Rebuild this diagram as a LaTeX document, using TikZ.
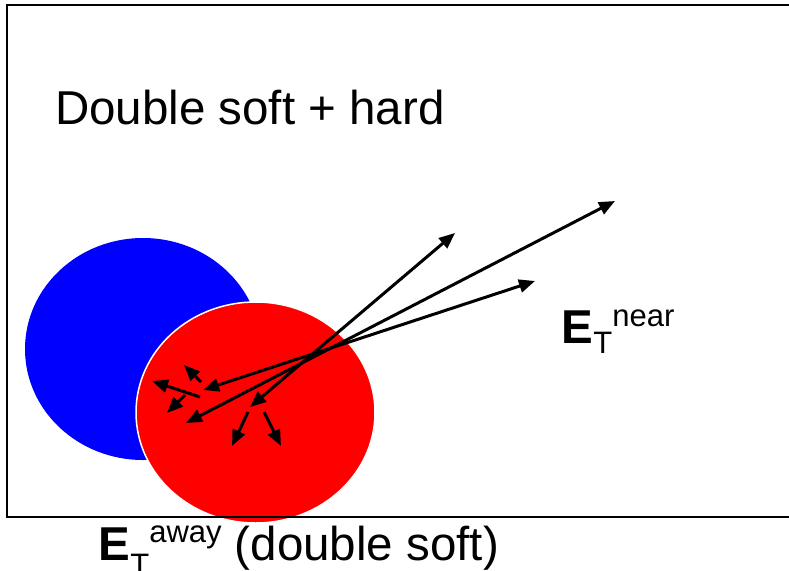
\documentclass[tikz,border=0pt]{standalone}
\usepackage{fontspec}
\setmainfont{Liberation Sans}
\usetikzlibrary{arrows.meta}
\tikzset{
  px/.style={x=1pt,y=-1pt},
  tip/.tip={Triangle[length=16pt,width=13pt]},
  jet/.style={line width=3pt,tip-tip},
  soft/.style={line width=3pt,-tip},
  lbl/.style={inner sep=0pt,anchor=base west,font=\fontsize{47.5}{50}\selectfont},
  frame/.style={line width=2pt,draw=black}
}
\newcommand{\scr}[1]{{\fontsize{31}{31}\selectfont #1}}
\begin{document}
\begin{tikzpicture}[px]
\useasboundingbox (0,0) rectangle (789,570);
% blobs
\fill[blue] (143,349) ellipse [x radius=118pt, y radius=111pt];
\filldraw[fill=red,draw=white,line width=1.5pt] (255.5,412.5) ellipse [x radius=119.5pt, y radius=110.5pt];
% coordinates
\coordinate (a1) at (250,407);
\coordinate (a2) at (455,233);
\coordinate (b1) at (186,423);
\coordinate (b2) at (615,201);
\coordinate (c1) at (203,390);
\coordinate (c2) at (535,281);
\coordinate (s1t) at (200,397); \coordinate (s1h) at (152,381);
\coordinate (s2t) at (201,382); \coordinate (s2h) at (184,365);
\coordinate (s3t) at (185,395); \coordinate (s3h) at (167,413);
\coordinate (s4t) at (248,412); \coordinate (s4h) at (232,446);
\coordinate (s5t) at (264,412); \coordinate (s5h) at (281,446);
% hard jets
\draw[jet] (a1) -- (a2);
\draw[jet] (b1) -- (b2);
\draw[jet] (c1) -- (c2);
% soft arrows
\draw[soft] (s1t) -- (s1h);
\draw[soft] (s2t) -- (s2h);
\draw[soft] (s3t) -- (s3h);
\draw[soft] (s4t) -- (s4h);
\draw[soft] (s5t) -- (s5h);
% frame
\draw[frame] (795,5) -- (7,5) -- (7,517) -- (795,517);
% labels
\node[lbl] (title) at (55,124) {Double soft + hard};
\node[lbl] (near) at (561.5,343) {\textbf{E}\raisebox{-10pt}{\scr{T}}\raisebox{17pt}{\scr{near}}};
\node[lbl] (away) at (98.5,560) {\textbf{E}\raisebox{-15pt}{\scr{T}}\raisebox{18pt}{\scr{away}} (double soft)};
\end{tikzpicture}
\end{document}
